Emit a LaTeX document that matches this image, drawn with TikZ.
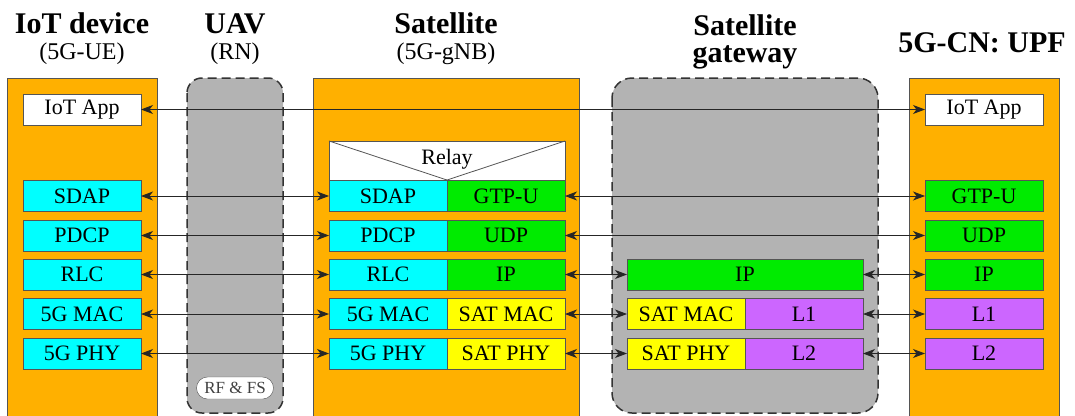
\documentclass[tikz,border=0pt]{standalone}
\usepackage{fontspec}
\setmainfont{Liberation Serif}
\usetikzlibrary{arrows.meta}
\definecolor{orng}{RGB}{255,176,0}
\definecolor{cyn}{RGB}{0,255,255}
\definecolor{grn}{RGB}{0,235,0}
\definecolor{ylw}{RGB}{255,255,0}
\definecolor{prp}{RGB}{204,102,255}
\definecolor{gry}{RGB}{179,179,179}
\definecolor{edge}{RGB}{85,85,85}
\tikzset{
  entity/.style={draw=edge, line width=0.8pt, fill=orng},
  cloudbox/.style={draw=black!80, line width=1.5pt, fill=gry, dash pattern=on 9pt off 5pt},
  layer/.style={draw=edge, line width=0.8pt, minimum height=31pt, minimum width=118pt, inner sep=0pt, outer sep=0pt, font=\fontsize{22}{23}\selectfont},
  cy/.style={layer, fill=cyn},
  gr/.style={layer, fill=grn},
  yl/.style={layer, fill=ylw},
  pu/.style={layer, fill=prp},
  wh/.style={layer, fill=white},
  ttl/.style={anchor=base, font=\fontsize{30}{27}\selectfont\bfseries},
  sub/.style={anchor=base, font=\fontsize{24}{26}\selectfont},
  arr/.style={draw=black!85, line width=0.9pt, {Stealth[length=12pt,width=9pt,inset=3.5pt]}-{Stealth[length=12pt,width=9pt,inset=3.5pt]}}
}
\begin{document}
\begin{tikzpicture}[x=1pt,y=-1pt]
\useasboundingbox (0,0) rectangle (1075,415);
% containers
\path[entity] (7.5,78) rectangle (157,420);
\path[entity] (313,78) rectangle (579,420);
\path[entity] (909,78) rectangle (1059,420);
\path[cloudbox, rounded corners=15pt] (187,78) rectangle (283,413);
\path[cloudbox, rounded corners=20pt] (612,78) rectangle (878,413);
% titles
\node[ttl] (t1) at (82,33) {IoT device};
\node[sub] (s1) at (82,59) {(5G-UE)};
\node[ttl] (t2) at (235,33) {UAV};
\node[sub] (s2) at (235,59) {(RN)};
\node[ttl] (t3) at (446,33) {Satellite};
\node[sub] (s3) at (446,59) {(5G-gNB)};
\node[ttl, align=center, inner sep=0pt] (t4) at (745,62) {Satellite\\gateway};
\node[ttl] (t5) at (982,52) {5G-CN: UPF};
% UE stack
\node[wh] (ueapp) at (82,109.5) {IoT App};
\node[cy] (ue1) at (82,196) {SDAP};
\node[cy] (ue2) at (82,235.5) {PDCP};
\node[cy] (ue3) at (82,274.5) {RLC};
\node[cy] (ue4) at (82,314) {5G MAC};
\node[cy] (ue5) at (82,353.5) {5G PHY};
% RF & FS
\node[draw=edge, fill=white, rounded corners=11pt, minimum width=77pt, minimum height=22pt, inner sep=0pt, text=black!75, font=\fontsize{17}{18}\selectfont] (rf) at (235,388) {RF \& FS};
% gNB stack
\node[wh, minimum width=236pt, minimum height=39pt] (relay) at (447,160.5) {};
\draw[draw=edge, line width=0.8pt] (relay.north west) -- (relay.south) -- (relay.north east);
\node[anchor=base, font=\fontsize{22}{23}\selectfont] (relayt) at (447,164) {Relay};
\node[cy] (gl1) at (388,196) {SDAP};
\node[gr] (gr1) at (506,196) {GTP-U};
\node[cy] (gl2) at (388,235.5) {PDCP};
\node[gr] (gr2) at (506,235.5) {UDP};
\node[cy] (gl3) at (388,274.5) {RLC};
\node[gr] (gr3) at (506,274.5) {IP};
\node[cy] (gl4) at (388,314) {5G MAC};
\node[yl] (gr4) at (506,314) {SAT MAC};
\node[cy] (gl5) at (388,353.5) {5G PHY};
\node[yl] (gr5) at (506,353.5) {SAT PHY};
% gateway stack
\node[gr, minimum width=236pt] (gw3) at (745,274.5) {IP};
\node[yl] (gwl4) at (686,314) {SAT MAC};
\node[pu] (gwr4) at (804,314) {L1};
\node[yl] (gwl5) at (686,353.5) {SAT PHY};
\node[pu] (gwr5) at (804,353.5) {L2};
% UPF stack
\node[wh] (upapp) at (984,109.5) {IoT App};
\node[gr] (up1) at (984,196) {GTP-U};
\node[gr] (up2) at (984,235.5) {UDP};
\node[gr] (up3) at (984,274.5) {IP};
\node[pu] (up4) at (984,314) {L1};
\node[pu] (up5) at (984,353.5) {L2};
% connectors
\draw[arr] (ueapp.east) -- (upapp.west);
\draw[arr] (ue1.east) -- (gl1.west);
\draw[arr] (ue2.east) -- (gl2.west);
\draw[arr] (ue3.east) -- (gl3.west);
\draw[arr] (ue4.east) -- (gl4.west);
\draw[arr] (ue5.east) -- (gl5.west);
\draw[arr] (gr1.east) -- (up1.west);
\draw[arr] (gr2.east) -- (up2.west);
\draw[arr] (gr3.east) -- (gw3.west);
\draw[arr] (gr4.east) -- (gwl4.west);
\draw[arr] (gr5.east) -- (gwl5.west);
\draw[arr] (gw3.east) -- (up3.west);
\draw[arr] (gwr4.east) -- (up4.west);
\draw[arr] (gwr5.east) -- (up5.west);
\end{tikzpicture}
\end{document}
